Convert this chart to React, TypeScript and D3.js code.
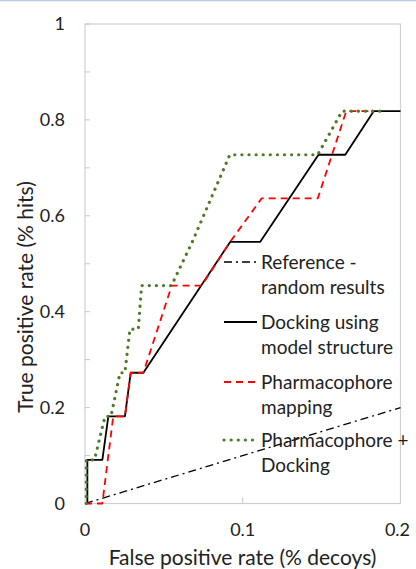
import React from 'react';
import * as d3 from 'd3';

// ROC curves, values (tpr steps are multiples of 1/11)
const referenceFpr = [0, 0.2];
const referenceTpr = [0, 0.2];

const dockingFpr = [0.0015, 0.0015, 0.011, 0.0148, 0.0253, 0.029, 0.037, 0.092, 0.111, 0.148, 0.165, 0.183, 0.2];
const dockingTpr = [0, 0.0909, 0.0909, 0.1818, 0.1818, 0.2727, 0.2727, 0.5455, 0.5455, 0.7273, 0.7273, 0.8182, 0.8182];

const pharmFpr = [0, 0.011, 0.0179, 0.0253, 0.029, 0.037, 0.055, 0.074, 0.092, 0.112, 0.1476, 0.1656, 0.183];
const pharmTpr = [0, 0, 0.1818, 0.1818, 0.2727, 0.2727, 0.4545, 0.4545, 0.5455, 0.6364, 0.6364, 0.8182, 0.8182];

const comboFpr = [0.0008, 0.0008, 0.006, 0.0127, 0.0165, 0.0222, 0.0253, 0.0285, 0.0338, 0.0359, 0.0548, 0.068, 0.0918, 0.1475, 0.163, 0.188];
const comboTpr = [0, 0.0909, 0.0909, 0.1818, 0.1818, 0.2727, 0.2727, 0.3636, 0.3636, 0.4545, 0.4545, 0.5455, 0.7273, 0.7273, 0.8182, 0.8182];

const xTicks = [0, 0.1, 0.2];
const yTicks = [0, 0.2, 0.4, 0.6, 0.8, 1];
const yMinor = [0.1, 0.3, 0.5, 0.7, 0.9];

const legendLabels = [
  ['Reference -', 'random results'],
  ['Docking using', 'model structure'],
  ['Pharmacophore', 'mapping'],
  ['Pharmacophore +', 'Docking'],
];

const font = 'Lato, "Open Sans", sans-serif';

const App = () => {
  const width = 416;
  const height = 569;
  const x = d3.scaleLinear().domain([0, 0.2]).range([85, 400.5]);
  const y = d3.scaleLinear().domain([0, 1]).range([503.5, 24]);

  const line = d3.line<[number, number]>().x(d => x(d[0])).y(d => y(d[1]));
  const zip = (a: number[], b: number[]) => a.map((v, i) => [v, b[i]] as [number, number]);

  const series = [
    { d: zip(referenceFpr, referenceTpr), stroke: '#000', w: 1.3, dash: '8,4,2,4', cap: 'butt' },
    { d: zip(dockingFpr, dockingTpr), stroke: '#000', w: 1.8, dash: null, cap: 'butt' },
    { d: zip(pharmFpr, pharmTpr), stroke: '#ff0000', w: 1.8, dash: '7,5', cap: 'butt' },
    { d: zip(comboFpr, comboTpr), stroke: '#4f7a28', w: 3.2, dash: '0.1,7', cap: 'round' },
  ];

  const legendY = [262, 322, 382, 440];

  return (
    <svg width={width} height={height} style={{ position: 'absolute', left: 0, top: 0, background: '#fff' }}>
      <line x1={0} x2={width} y1={0.5} y2={0.5} stroke="#b7cde6" strokeWidth={1.5} />
      <rect x={x(0)} y={y(1)} width={x(0.2) - x(0)} height={y(0) - y(1)} fill="none" stroke="#d0d0d0" strokeWidth={1.2} />
      {yMinor.map(t => (
        <line key={'ym' + t} x1={x(0)} x2={x(0) + 5} y1={y(t)} y2={y(t)} stroke="#c8c8c8" strokeWidth={1} />
      ))}
      {yTicks.map(t => (
        <line key={'yt' + t} x1={x(0)} x2={x(0) + 5} y1={y(t)} y2={y(t)} stroke="#c8c8c8" strokeWidth={1} />
      ))}
      <line x1={x(0.1)} x2={x(0.1)} y1={y(0)} y2={y(0) - 6} stroke="#c8c8c8" strokeWidth={1} />

      {yTicks.map(t => (
        <text key={'yl' + t} x={65} y={y(t)} dy="0.35em" textAnchor="end" fontFamily={font} fontSize={18} fill="#222">
          {String(t)}
        </text>
      ))}
      {xTicks.map(t => (
        <text key={'xl' + t} x={t === 0.2 ? x(t) - 3 : x(t)} y={530} dy="0.35em" textAnchor="middle" fontFamily={font} fontSize={18} fill="#222">
          {String(t)}
        </text>
      ))}
      <text x={242.5} y={558} dy="0.35em" textAnchor="middle" fontFamily={font} fontSize={21} fill="#222">
        False positive rate (% decoys)
      </text>
      <text transform="translate(26,297) rotate(-90)" dy="0.35em" textAnchor="middle" fontFamily={font} fontSize={21} fill="#222">
        True positive rate (% hits)
      </text>

      {series.map((s, i) => (
        <path key={'s' + i} d={line(s.d) || ''} fill="none" stroke={s.stroke} strokeWidth={s.w}
          strokeDasharray={s.dash || undefined} strokeLinecap={s.cap as any} strokeLinejoin="round" />
      ))}

      {series.map((s, i) => (
        <g key={'lg' + i}>
          <line x1={224} x2={257} y1={legendY[i]} y2={legendY[i]} stroke={s.stroke} strokeWidth={s.w}
            strokeDasharray={s.dash || undefined} strokeLinecap={s.cap as any} />
          <text x={261} y={legendY[i]} dy="0.35em" fontFamily={font} fontSize={19} fill="#222">
            {legendLabels[i][0]}
          </text>
          <text x={261} y={legendY[i] + 25} dy="0.35em" fontFamily={font} fontSize={19} fill="#222">
            {legendLabels[i][1]}
          </text>
        </g>
      ))}
    </svg>
  );
};

export default App;
